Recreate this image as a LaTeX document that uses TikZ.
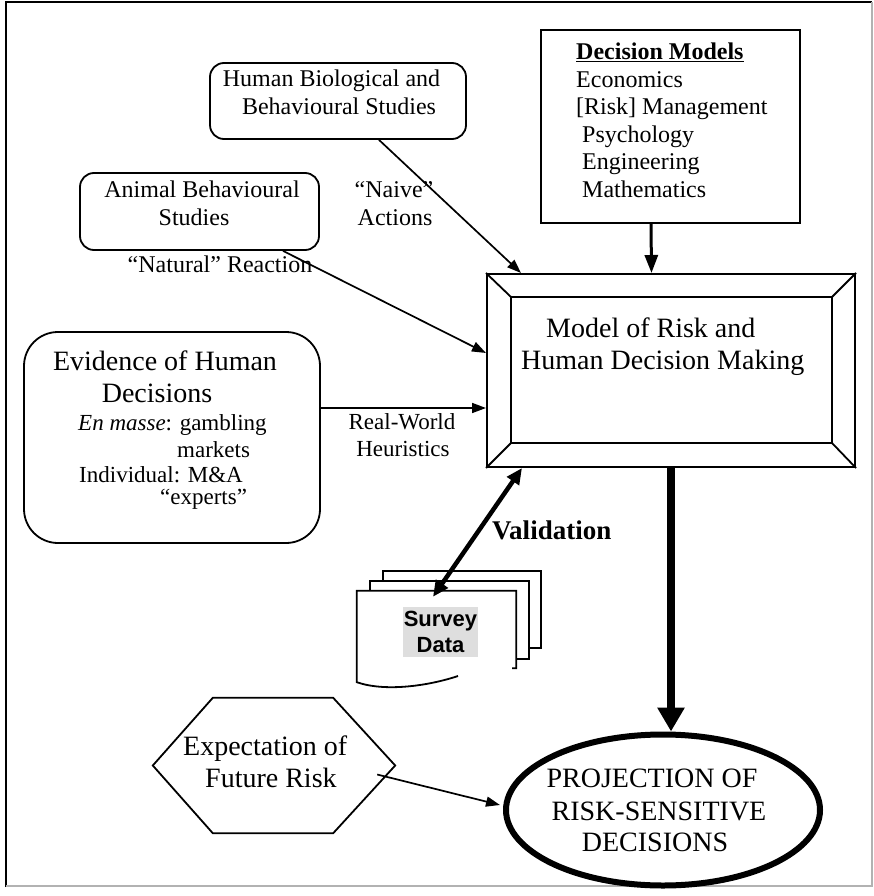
\documentclass[tikz,border=0pt]{standalone}
\usepackage{fontspec}
\setmainfont{Liberation Serif}
\newfontfamily\sansfam{Liberation Sans}
\usetikzlibrary{arrows.meta,shapes.geometric,calc}
\newcommand\myfs[1]{\fontsize{#1}{#1}\selectfont}
\begin{document}
\begin{tikzpicture}[x=1pt,y=-1pt,
  lbl/.style={inner sep=0pt, anchor=base west},
  lblc/.style={inner sep=0pt, anchor=base},
  rbox/.style={draw, line width=1.8pt, rounded corners=14pt, inner sep=0pt},
  sqbox/.style={draw, line width=2pt, inner sep=0pt},
  arr/.style={line width=1.7pt, -{Triangle[length=14pt,width=10pt]}},
  page/.style={draw, line width=1.8pt, fill=white},
  f24/.style={font=\myfs{24}},
  f23/.style={font=\myfs{23}},
  f28/.style={font=\myfs{28}}]
\useasboundingbox (0,0) rectangle (873,896);
% outer frame
\draw[line width=2pt] (5.5,887) -- (5.5,2.5) -- (872,2.5);
\draw[line width=1.5pt, black!30] (872,2.5) -- (872,886) -- (5.5,886);

% boxes
\node[rbox, minimum width=256pt, minimum height=76pt] (hbio) at (338,101) {};
\node[rbox, minimum width=239pt, minimum height=77pt] (animal) at (199.5,211.5) {};
\node[rbox, rounded corners=34pt, minimum width=296pt, minimum height=211pt] (evid) at (172,437.5) {};
\node[sqbox, minimum width=259pt, minimum height=193pt] (dm) at (670.5,126.5) {};

% bevelled model box
\node[sqbox, minimum width=368pt, minimum height=193pt] (model) at (671,370.5) {};
\coordinate (inw) at ($(model.north west)+(25,24)$);
\coordinate (ise) at ($(model.south east)+(-24,-25)$);
\coordinate (ine) at (ise |- inw);
\coordinate (isw) at (inw |- ise);
\draw[line width=2pt] (inw) rectangle (ise);
\draw[line width=1.8pt] (model.north west) -- (inw) (model.north east) -- (ine)
  (model.south east) -- (ise) (model.south west) -- (isw);

% projection ellipse
\node[draw, ellipse, line width=6pt, minimum width=314pt, minimum height=151pt, inner sep=0pt] (proj) at (663,810) {};

% hexagon
\node[minimum width=242pt, minimum height=135pt, inner sep=0pt] (hex) at (274,765.5) {};
\draw[line width=1.8pt] (hex.west) -- ([xshift=60pt]hex.north west) -- ([xshift=-62pt]hex.north east)
  -- (hex.east) -- ([xshift=-62pt]hex.south east) -- ([xshift=60pt]hex.south west) -- cycle;

% survey documents
\draw[page] (383,571) rectangle (541,648);
\draw[page] (370,581) rectangle (529,659);
\node[minimum width=159pt, minimum height=77pt, inner sep=0pt, fill=white] (doc) at (436.5,629.5) {};
\draw[line width=1.8pt] ([xshift=-4pt]doc.south east) -- (doc.south east) -- (doc.north east) -- (doc.north west)
  -- ([yshift=-14pt]doc.south west) .. controls (385,692) and (428,686) .. (458,676);
\node[fill=black!13, inner xsep=1pt, inner ysep=4pt, align=center, font=\sansfam\bfseries\fontsize{22}{26}\selectfont] (survey) at (440.5,632) {Survey\\Data};

% texts
\node[lblc,f24] (hbio1) at (331.5,87) {Human Biological and};
\node[lblc,f24] (hbio2) at (339,115) {Behavioural Studies};
\node[lblc,f24] (an1) at (202,197) {Animal Behavioural};
\node[lblc,f24] (an2) at (194,225) {Studies};
\node[lblc,f24] (naive1) at (394,197) {“Naive”};
\node[lblc,f24] (naive2) at (395,225) {Actions};
\node[lblc,f24] (nat) at (220,272) {“Natural” Reaction};

\node[lbl,f24] (dm1) at (576,60) {\underline{\textbf{Decision Models}}};
\node[lbl,f24] (dm2) at (576,87.4) {Economics};
\node[lbl,f24] (dm3) at (576,114.8) {[Risk] Management};
\node[lbl,f24] (dm4) at (582,142.2) {Psychology};
\node[lbl,f24] (dm5) at (582,169.6) {Engineering};
\node[lbl,f24] (dm6) at (582,197) {Mathematics};

\node[lbl,f28] (mod1) at (546,337) {Model of Risk and};
\node[lbl,f28] (mod2) at (521,369) {Human Decision Making};

\node[lblc,f28] (ev1) at (165,370) {Evidence of Human};
\node[lblc,f28] (ev2) at (157,402) {Decisions};
\node[lbl,f23] (ev3) at (78,430) {\textit{En masse}: gambling};
\node[lbl,f23] (ev4) at (177,457) {markets};
\node[lbl,f23] (ev5) at (79,482) {Individual: M\&A};
\node[lbl,f23] (ev6) at (160,504) {“experts”};

\node[lblc,f23] (rw1) at (402,429) {Real-World};
\node[lblc,f23] (rw2) at (403,456) {Heuristics};

\node[lbl,font=\myfs{27}\bfseries] (valid) at (492,539) {Validation};

\node[lbl,f28] (hx1) at (183,755) {Expectation of};
\node[lbl,f28] (hx2) at (205,787) {Future Risk};

\node[lblc,f28] (pj1) at (652,787) {PROJECTION OF};
\node[lblc,f28] (pj2) at (659,820) {RISK-SENSITIVE};
\node[lblc,f28] (pj3) at (655,851) {DECISIONS};

% connectors
\draw[arr] ([xshift=41pt]hbio.south) -- ([xshift=-150pt]model.north);
\draw[line width=3pt, -{Triangle[length=18pt,width=13pt]}] ([xshift=-19.5pt]dm.south) -- ([xshift=-19.5pt]model.north);
\draw[arr] ([xshift=83.5pt]animal.south) -- ([yshift=17.5pt]model.west);
\draw[arr] ([yshift=29.5pt]evid.east) -- ([yshift=29.5pt]evid.east -| model.west);
\draw[line width=4.5pt, {Triangle[length=16pt,width=14pt]}-{Triangle[length=16pt,width=14pt]}]
  ([xshift=-3.5pt,yshift=-6pt]doc.north) -- ([xshift=-149pt]model.south);
\draw[line width=8pt, -{Triangle[length=24pt,width=26pt]}] (model.south) -- (model.south |- proj.north);
\draw[arr] ([xshift=-18pt,yshift=-9pt]hex.east) -- ([xshift=-3pt,yshift=5pt]proj.west);
\end{tikzpicture}
\end{document}
